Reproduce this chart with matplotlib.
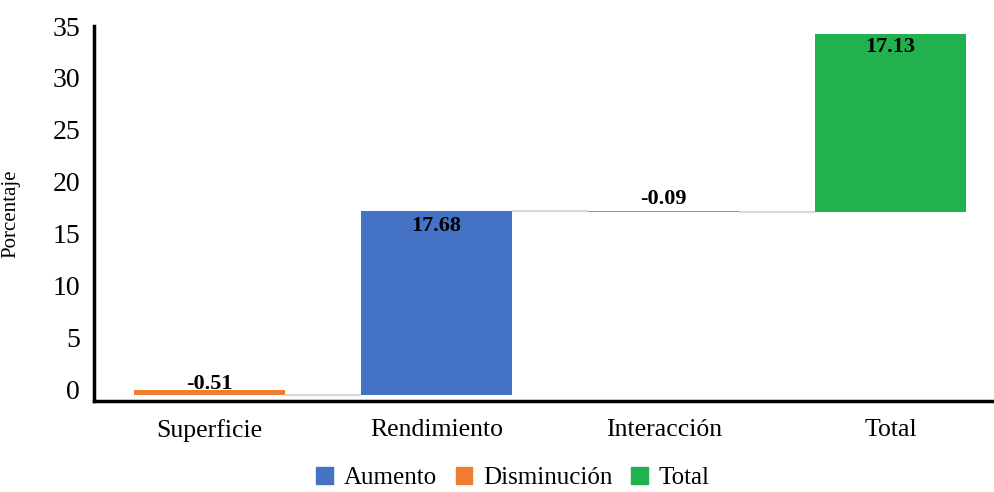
import numpy as np
import matplotlib.pyplot as plt

plt.rcParams['font.family'] = ['Liberation Serif', 'DejaVu Serif']

# data
categories = ["Superficie", "Rendimiento", "Interacción", "Total"]
changes = [-0.51, 17.68, -0.09]
total = 17.13
labels = ["-0.51", "17.68", "-0.09", "17.13"]

c_up = "#4472c4"
c_down = "#ed7d31"
c_total = "#21b14f"
c_conn = "#d9d9d9"

fig = plt.figure(figsize=(9.94, 4.92), dpi=100)
ax = fig.add_axes([94 / 994, 1 - 401 / 492, 910 / 994, (401 - 26) / 492])

width = 0.665
x = np.arange(len(categories))

# running totals for the waterfall
starts = np.concatenate([[0], np.cumsum(changes)[:-1]])
ends = np.cumsum(changes)

for i, (s, c) in enumerate(zip(starts, changes)):
    col = c_up if c >= 0 else c_down
    ax.bar(x[i], c, bottom=s, width=width, color=col, zorder=2)

# total bar (as drawn in the original)
ax.bar(x[3], total, bottom=total, width=width, color=c_total, zorder=2)

# connectors
for i, lvl in enumerate(ends):
    ax.plot([x[i] + width / 2, x[i + 1] - width / 2], [lvl, lvl],
            color=c_conn, lw=1.6, zorder=1, solid_capstyle="butt")

# data labels
lab_kw = dict(ha="center", fontsize=16, fontweight="bold", zorder=3)
ax.text(x[0], starts[0] - 0.4, labels[0], va="bottom", **lab_kw)
ax.text(x[1], ends[1] - 0.4, labels[1], va="top", **lab_kw)
ax.text(x[2], starts[2] + 0.2, labels[2], va="bottom", **lab_kw)
ax.text(x[3], 2 * total - 0.3, labels[3], va="top", **lab_kw)

ax.set_xlim(-0.51, 3.5)
ax.set_ylim(-1.06, 35)
ax.set_yticks(range(0, 36, 5))
ax.set_xticks(x)
ax.set_xticklabels(categories, fontsize=18.5)
ax.tick_params(axis="y", labelsize=20, length=0, pad=10)
ax.tick_params(axis="x", length=0, pad=13)
ax.set_ylabel("Porcentaje", fontsize=15)
ax.yaxis.set_label_coords(-0.081, 0.5)

for sp in ["top", "right"]:
    ax.spines[sp].set_visible(False)
for sp in ["left", "bottom"]:
    ax.spines[sp].set_linewidth(2.5)
    ax.spines[sp].set_color("black")

handles = [plt.Rectangle((0, 0), 1, 1, color=c) for c in (c_up, c_down, c_total)]
fig.legend(handles, ["Aumento", "Disminución", "Total"], loc="center",
           bbox_to_anchor=(513 / 994, 1 - 478 / 492), ncol=3, frameon=False,
           fontsize=18, handlelength=0.65, handleheight=0.65, handletextpad=0.45,
           columnspacing=0.75, borderpad=0.1)

fig.savefig("out.png", dpi=100)
